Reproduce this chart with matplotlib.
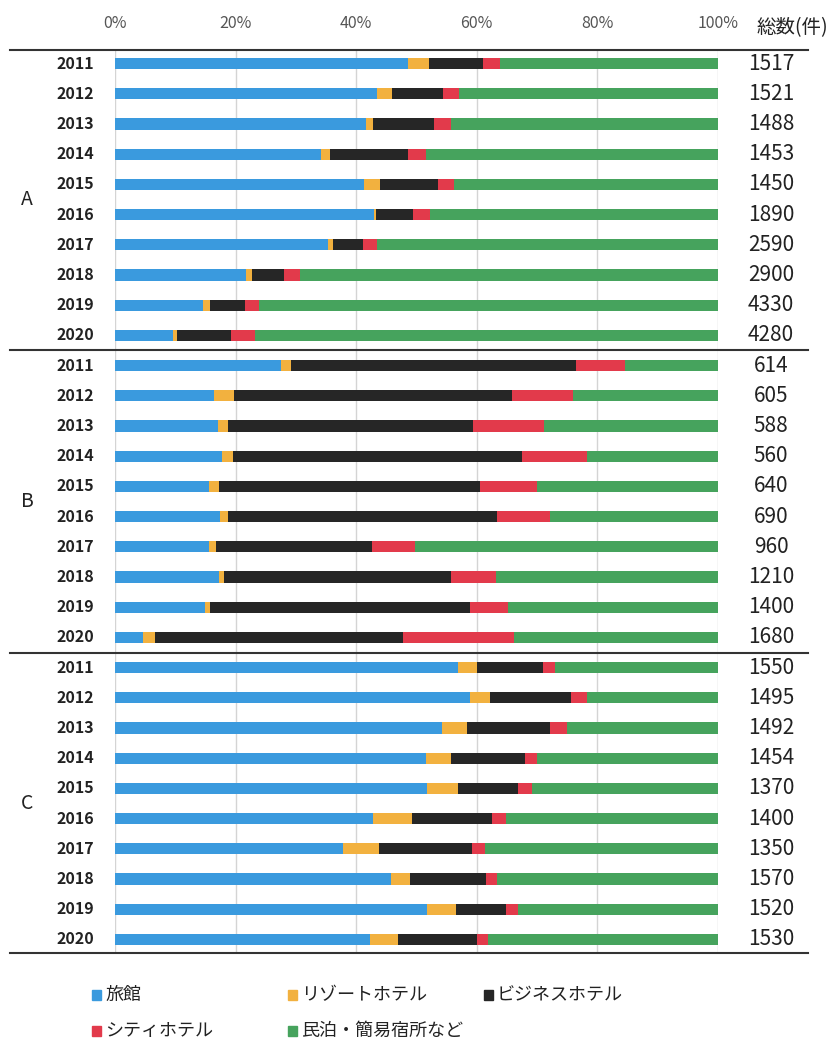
import matplotlib.pyplot as plt
from matplotlib.patches import Rectangle

plt.rcParams['font.family'] = ['Noto Sans CJK JP', 'DejaVu Sans']

years = [2011, 2012, 2013, 2014, 2015, 2016, 2017, 2018, 2019, 2020]
groups = ['A', 'B', 'C']
labels = ['旅館', 'リゾートホテル', 'ビジネスホテル', 'シティホテル', '民泊・簡易宿所など']
colors = ['#3a9ade', '#f2b13f', '#262626', '#e23a4b', '#46a35d']

# shares (%)
ryokan_A = [48.6, 43.4, 41.6, 34.1, 41.3, 42.9, 35.4, 21.7, 14.6, 9.6]
resort_A = [3.4, 2.5, 1.2, 1.6, 2.7, 0.4, 0.7, 1.0, 1.1, 0.7]
business_A = [9.1, 8.5, 10.1, 12.9, 9.5, 6.2, 5.0, 5.4, 5.8, 8.9]
city_A = [2.7, 2.7, 2.8, 2.9, 2.8, 2.7, 2.3, 2.5, 2.4, 4.1]
minpaku_A = [36.2, 42.9, 44.3, 48.5, 43.7, 47.8, 56.6, 69.4, 76.1, 76.7]

ryokan_B = [27.6, 16.5, 17.1, 17.8, 15.6, 17.4, 15.6, 17.3, 14.9, 4.7]
resort_B = [1.6, 3.2, 1.7, 1.8, 1.6, 1.4, 1.1, 0.8, 0.8, 1.9]
business_B = [47.2, 46.1, 40.5, 47.9, 43.3, 44.5, 25.9, 37.7, 43.2, 41.2]
city_B = [8.2, 10.2, 11.9, 10.7, 9.5, 8.8, 7.1, 7.4, 6.3, 18.3]
minpaku_B = [15.4, 24.0, 28.8, 21.8, 30.0, 27.9, 50.3, 36.8, 34.8, 33.9]

ryokan_C = [56.8, 58.9, 54.3, 51.5, 51.7, 42.8, 37.8, 45.8, 51.8, 42.3]
resort_C = [3.3, 3.3, 4.1, 4.2, 5.1, 6.4, 6.0, 3.2, 4.7, 4.7]
business_C = [10.8, 13.4, 13.7, 12.3, 10.1, 13.4, 15.4, 12.5, 8.3, 13.0]
city_C = [2.0, 2.6, 2.9, 2.0, 2.2, 2.2, 2.1, 1.9, 2.1, 1.9]
minpaku_C = [27.1, 21.8, 25.0, 30.0, 30.9, 35.2, 38.7, 36.6, 33.1, 38.1]

totals_A = [1517, 1521, 1488, 1453, 1450, 1890, 2590, 2900, 4330, 4280]
totals_B = [614, 605, 588, 560, 640, 690, 960, 1210, 1400, 1680]
totals_C = [1550, 1495, 1492, 1454, 1370, 1400, 1350, 1570, 1520, 1530]

series = [
    ryokan_A + ryokan_B + ryokan_C,
    resort_A + resort_B + resort_C,
    business_A + business_B + business_C,
    city_A + city_B + city_C,
    minpaku_A + minpaku_B + minpaku_C,
]
totals = totals_A + totals_B + totals_C
n = len(totals)
rows = list(range(n))

fig = plt.figure(figsize=(8.36, 10.42), dpi=100)
ax = fig.add_axes([115 / 836, 1 - 953 / 1042, 603 / 836, 903 / 1042])

left = [0.0] * n
for vals, col in zip(series, colors):
    ax.barh(rows, vals, left=left, height=0.37, color=col, zorder=3)
    left = [l + v for l, v in zip(left, vals)]

ax.set_xlim(0, 100)
ax.set_ylim(n - 0.55, -0.45)
ax.set_xticks([0, 20, 40, 60, 80, 100])
ax.set_xticklabels(['0%', '20%', '40%', '60%', '80%', '100%'])
ax.xaxis.tick_top()
ax.tick_params(axis='x', length=0, pad=13, labelsize=11.5, labelcolor='#555555')
ax.set_yticks([])
ax.grid(axis='x', color='#d4d4d4', lw=1, zorder=0)
for s in ax.spines.values():
    s.set_visible(False)

# horizontal rules
for yv in [-0.45, 9.5, 19.5, n - 0.55]:
    ax.plot([-0.174, 1.149], [yv, yv], transform=ax.get_yaxis_transform(),
            color='#333333', lw=1.5, clip_on=False)

for i in rows:
    ax.text(-0.066, i, str(years[i % 10]), transform=ax.get_yaxis_transform(),
            ha='center', va='center', fontsize=11.5, fontweight='bold', color='#222222')
    ax.text(1.088, i, str(totals[i]), transform=ax.get_yaxis_transform(),
            ha='center', va='center', fontsize=15, color='#222222')

for k, g in enumerate(groups):
    ax.text(-0.146, 10 * k + 4.5, g, transform=ax.get_yaxis_transform(),
            ha='center', va='center', fontsize=14, color='#222222')

ax.text(1.124, 1.025, '総数(件)', transform=ax.transAxes, ha='center', va='center',
        fontsize=14, color='#222222')

# legend
leg_pos = [(92, 995), (288, 995), (484, 995), (92, 1031), (288, 1031)]
for (px, py), lab, col in zip(leg_pos, labels, colors):
    fig.add_artist(Rectangle((px / 836, 1 - (py + 5) / 1042), 9 / 836, 10 / 1042,
                             transform=fig.transFigure, color=col))
    fig.text((px + 13) / 836, 1 - py / 1042, lab, ha='left', va='center',
             fontsize=13, color='#222222')

fig.savefig('out.png', dpi=100)
